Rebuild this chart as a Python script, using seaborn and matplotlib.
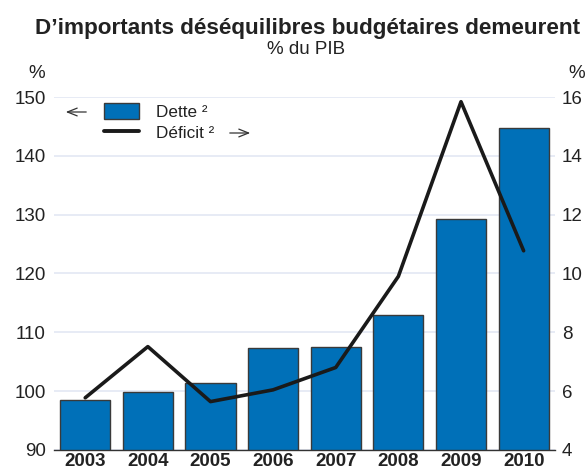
import matplotlib
matplotlib.use("Agg")
import matplotlib.pyplot as plt
import seaborn as sns
import numpy as np
from matplotlib.patches import Patch
from matplotlib.lines import Line2D

years = ["2003", "2004", "2005", "2006", "2007", "2008", "2009", "2010"]
dette = [98.4, 99.8, 101.3, 107.3, 107.4, 113.0, 129.3, 144.8]
deficit = [5.77, 7.51, 5.64, 6.04, 6.80, 9.90, 15.84, 10.77]
left_ticks = [90, 100, 110, 120, 130, 140, 150]
right_ticks = [4, 6, 8, 10, 12, 14, 16]

sns.set_style("white")
plt.rcParams['font.family'] = ['Liberation Sans', 'DejaVu Sans']

BLUE = "#0070b8"
TXT = "#222222"
FS = 13.5
fig = plt.figure(figsize=(5.86, 4.71), dpi=100)
ax = fig.add_axes([0.092, 0.045, 0.855, 0.749])

sns.barplot(x=years, y=dette, ax=ax, color=BLUE, saturation=1, width=0.8,
            edgecolor="#3a3a3a", linewidth=1.0, zorder=2)
ax.set_ylim(90, 150)
ax.set_xlim(-0.5, len(years) - 0.5)
ax.set_yticks(left_ticks)
ax.set_axisbelow(True)
ax.grid(axis="y", color="#e3e8f3", linewidth=1.2)
ax.grid(axis="x", visible=False)
for s in ["left", "right", "top"]:
    ax.spines[s].set_visible(False)
ax.spines["bottom"].set_color("#333333")
ax.spines["bottom"].set_linewidth(1.0)
ax.tick_params(axis="y", length=0, labelsize=FS, colors=TXT, pad=6)
ax.tick_params(axis="x", length=0, labelsize=FS, colors=TXT, pad=2)
for t in ax.get_xticklabels():
    t.set_fontweight("bold")
ax.set_xticks(np.arange(len(years) + 1) - 0.5, minor=True)
ax.tick_params(axis="x", which="minor", direction="in", length=4, color="#333333", width=1)
ax.set_xlabel("")
ax.set_ylabel("")

ax2 = ax.twinx()
ax2.set_position(ax.get_position())
sns.lineplot(x=np.arange(len(years)), y=deficit, ax=ax2, color="#1a1a1a", linewidth=2.6, zorder=3)
ax2.set_ylim(4, 16)
ax2.set_yticks(right_ticks)
ax2.grid(False)
for s in ["left", "right", "top", "bottom"]:
    ax2.spines[s].set_visible(False)
ax2.tick_params(axis="y", length=0, labelsize=FS, colors=TXT, pad=5)
ax2.set_ylabel("")
ax2.set_xlim(-0.5, len(years) - 0.5)

fig.text(0.524, 0.940, "D\u2019importants déséquilibres budgétaires demeurent",
         ha="center", va="center", fontsize=16.2, fontweight="bold", color=TXT)
fig.text(0.522, 0.895, "% du PIB", ha="center", va="center", fontsize=FS, color=TXT)
fig.text(0.063, 0.845, "%", ha="center", va="center", fontsize=FS, color=TXT)
fig.text(0.999, 0.845, "%", ha="right", va="center", fontsize=FS, color=TXT)

handles = [Patch(facecolor=BLUE, edgecolor="#3a3a3a", linewidth=1.0),
           Line2D([0], [0], color="#1a1a1a", linewidth=2.8)]
leg = ax.legend(handles, ["Dette ²", "Déficit ²"], loc="upper left",
                bbox_to_anchor=(104 / 586, 1 - 103 / 471), bbox_transform=fig.transFigure,
                frameon=False, fontsize=12.3, borderpad=0, borderaxespad=0,
                handlelength=2.05, handleheight=1.06, handletextpad=1.0, labelspacing=0.25)
for t in leg.get_texts():
    t.set_color(TXT)

ax.annotate("", xy=(63 / 586, 1 - 112 / 471), xytext=(89 / 586, 1 - 112 / 471),
            xycoords="figure fraction",
            arrowprops=dict(arrowstyle="->,head_length=0.7,head_width=0.28", color="#333333", lw=0.9))
ax.annotate("", xy=(253 / 586, 1 - 133 / 471), xytext=(227 / 586, 1 - 133 / 471),
            xycoords="figure fraction",
            arrowprops=dict(arrowstyle="->,head_length=0.7,head_width=0.28", color="#333333", lw=0.9))

fig.savefig("out.png", dpi=100)
